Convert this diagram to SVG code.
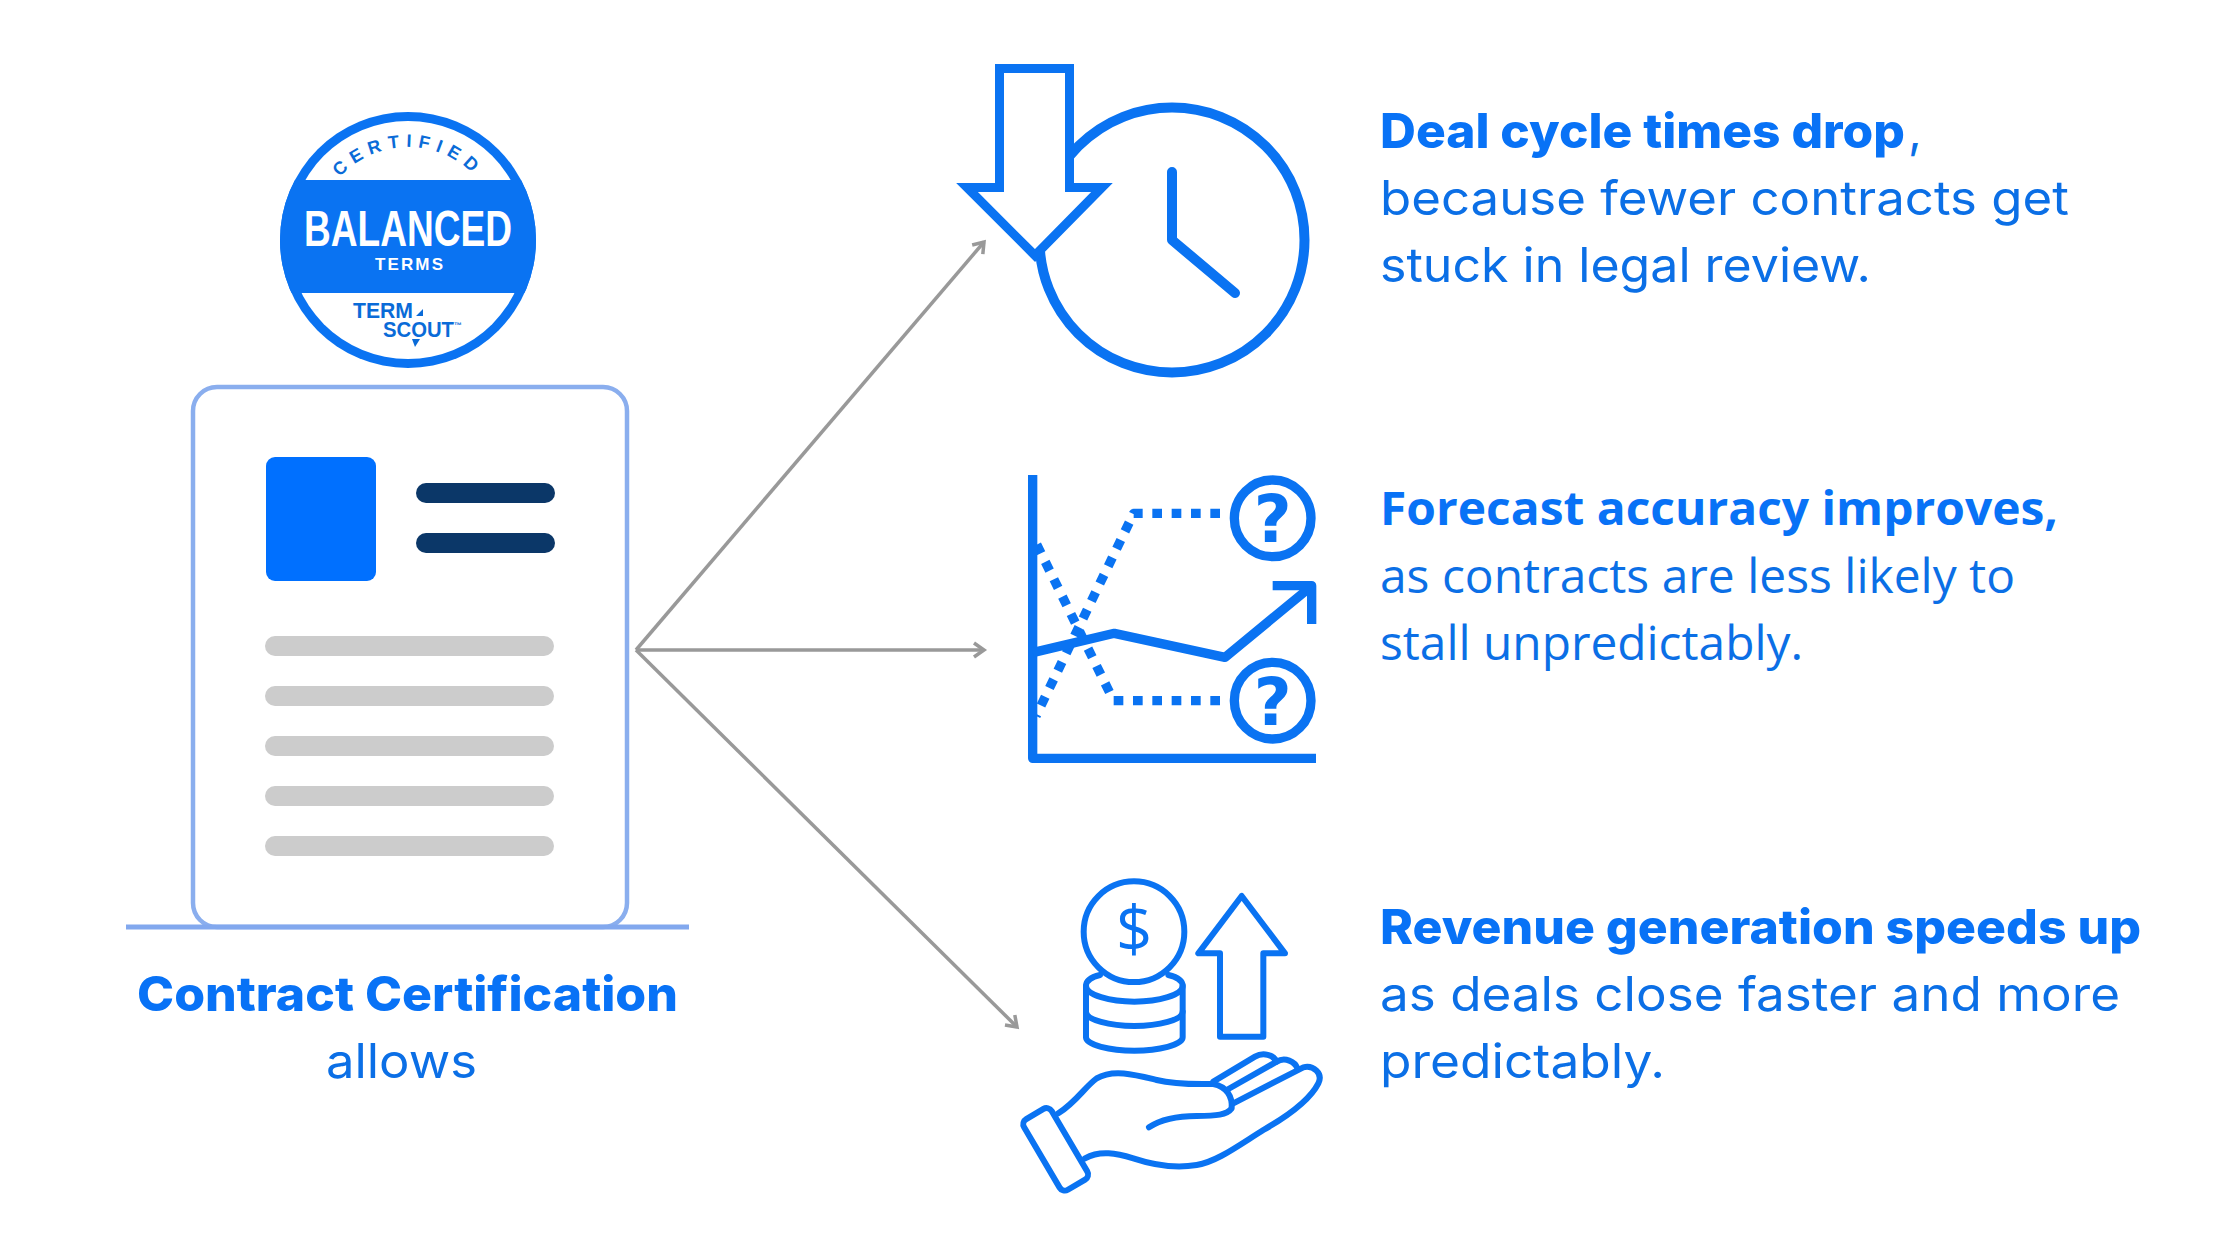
<svg xmlns="http://www.w3.org/2000/svg" xmlns:xlink="http://www.w3.org/1999/xlink" width="2240" height="1260" viewBox="0 0 2240 1260">
<style>
.pop{font-family:"Inter","Liberation Sans",sans-serif;fill:#0B6FE6;font-size:48px;font-weight:400}
.popb{font-family:"Inter","Liberation Sans",sans-serif;fill:#0872F6;font-size:48px;font-weight:800}
.os{font-family:"Open Sans","Liberation Sans",sans-serif;fill:#0B6FE6;font-size:47px;font-weight:400}
.osb{font-family:"Open Sans","Liberation Sans",sans-serif;fill:#0872F6;font-size:47px;font-weight:700}
.ic{fill:none;stroke:#0A73F2;stroke-linejoin:round}
.bar{fill:#CCCCCC}
.dark{fill:#0B3768}
.conn{fill:none;stroke:#999999;stroke-width:3.5}
.bt{font-family:"Liberation Sans",Arial,sans-serif;font-weight:700}
</style>
<defs>
<marker id="head" markerUnits="userSpaceOnUse" markerWidth="20" markerHeight="20" refX="14" refY="9" orient="auto" viewBox="0 0 20 18">
<path d="M4 2 L14 9 L4 16" fill="none" stroke="#999999" stroke-width="3.5"/>
</marker>
<clipPath id="badgeClip"><circle cx="408" cy="240" r="128"/></clipPath>
<path id="certArc" d="M341 176 A92 92 0 0 1 475 176"/>
</defs>
<rect width="2240" height="1260" fill="#FFFFFF"/>

<g id="connectors">
<line class="conn" x1="636" y1="650" x2="984" y2="242" marker-end="url(#head)"/>
<line class="conn" x1="636" y1="650" x2="984" y2="650" marker-end="url(#head)"/>
<line class="conn" x1="636" y1="650" x2="1017" y2="1027" marker-end="url(#head)"/>
</g>

<g id="badge">
<circle cx="408" cy="240" r="128" fill="#0A73F2"/>
<circle cx="408" cy="240" r="119" fill="#FFFFFF"/>
<rect x="270" y="180" width="280" height="113" fill="#0A73F2" clip-path="url(#badgeClip)"/>
<text class="bt" font-size="18" fill="#0A6BD8" letter-spacing="6.5" text-anchor="middle" font-weight="400"><textPath xlink:href="#certArc" href="#certArc" startOffset="50%">CERTIFIED</textPath></text>
<text class="bt" x="304" y="246" font-size="50" fill="#FFFFFF" textLength="208" lengthAdjust="spacingAndGlyphs">BALANCED</text>
<text class="bt" x="375" y="270" font-size="17" fill="#FFFFFF" textLength="68" lengthAdjust="spacing">TERMS</text>
<text class="bt" x="353" y="318" font-size="22" fill="#0A6BD8" textLength="60" lengthAdjust="spacingAndGlyphs">TERM</text>
<text class="bt" x="383" y="337" font-size="22" fill="#0A6BD8" textLength="71" lengthAdjust="spacingAndGlyphs">SCOUT</text>
<text class="bt" x="454" y="328" font-size="8" fill="#0A6BD8">™</text>
<path d="M416 316 L423 309 L423 316 Z M412 339 L420 339 L415 347 Z" fill="#0A6BD8"/>
</g>

<g id="document">
<rect x="193" y="387" width="434" height="540" rx="24" fill="#FFFFFF" stroke="#8AAEEE" stroke-width="4.5"/>
<line x1="126" y1="927" x2="689" y2="927" stroke="#82A8EE" stroke-width="5"/>
<rect x="266" y="457" width="110" height="124" rx="9" fill="#0070FF"/>
<rect class="dark" x="416" y="483" width="139" height="20" rx="10"/>
<rect class="dark" x="416" y="533" width="139" height="20" rx="10"/>
<rect class="bar" x="265" y="636" width="289" height="20" rx="10"/>
<rect class="bar" x="265" y="686" width="289" height="20" rx="10"/>
<rect class="bar" x="265" y="736" width="289" height="20" rx="10"/>
<rect class="bar" x="265" y="786" width="289" height="20" rx="10"/>
<rect class="bar" x="265" y="836" width="289" height="20" rx="10"/>
<text class="popb" x="137" y="1011" textLength="541" lengthAdjust="spacingAndGlyphs">Contract Certification</text>
<text class="pop" x="326" y="1078" textLength="151" lengthAdjust="spacingAndGlyphs">allows</text>
</g>

<g id="clock-icon">
<circle class="ic" cx="1172" cy="240" r="132.5" stroke-width="10"/>
<path class="ic" d="M1172 172 V240 L1235 293" stroke-width="10" stroke-linecap="round"/>
<path d="M999.5 68.5 H1069.5 V187.5 H1102 L1035 255.5 L967 187.5 H999.5 Z" fill="#FFFFFF" stroke="#0A73F2" stroke-width="9"/>
</g>

<g id="forecast-icon" transform="translate(1010 460) scale(.33333)">
<path class="ic" d="M630 160 H371 L78 768" stroke-width="28" stroke-dasharray="29 29"/>
<path class="ic" d="M630 722 H311 L77 247" stroke-width="28" stroke-dasharray="29 29"/>
<path class="ic" d="M68 45 V895 H918" stroke-width="28"/>
<path class="ic" d="M68 578 L313 520 L645 592 L905 378" stroke-width="28"/>
<path class="ic" d="M788 377 H905 V492" stroke-width="28"/>
<circle class="ic" cx="788" cy="175" r="115" stroke-width="28"/>
<circle class="ic" cx="788" cy="722" r="115" stroke-width="28"/>
<text x="788" y="245" font-family="'DejaVu Sans',sans-serif" font-weight="700" font-size="196" fill="#0A73F2" text-anchor="middle">?</text>
<text x="788" y="795" font-family="'DejaVu Sans',sans-serif" font-weight="700" font-size="196" fill="#0A73F2" text-anchor="middle">?</text>
</g>

<g id="revenue-icon" transform="translate(1010 860) scale(.33333)">
<g class="ic" stroke-width="18" stroke-linecap="round">
<path d="M270 345 C240 352 228 362 228 378 V532 C228 555 300 572 373 572 C446 572 518 555 518 532 V378 C518 362 505 352 475 345"/>
<path d="M228 378 C228 405 300 425 373 425 C446 425 518 405 518 378"/>
<path d="M228 455 C228 480 300 498 373 498 C446 498 518 480 518 455"/>
<circle cx="372" cy="215" r="151" fill="#FFFFFF"/>
<path d="M695 108 L565 280 H630 V530 H760 V280 H825 Z"/>
<rect x="-48" y="-123" width="96" height="246" rx="18" transform="translate(137 868) rotate(-30.5)"/>
<path d="M145 760 C200 725 225 680 260 655 C310 625 380 645 440 660 C500 675 560 672 610 672 C650 680 668 710 665 745 C650 765 620 768 560 768 C500 768 450 780 417 802"/>
<path d="M225 895 C270 870 320 880 370 895 C430 915 500 925 560 915 C620 905 680 860 760 810 C830 770 900 720 925 670 C940 640 910 615 880 622 L670 730"/>
<path d="M610 665 L735 590 C760 575 790 585 800 605 L650 690"/>
<path d="M800 605 C825 590 855 605 862 625"/>
</g>
<text x="372" y="275" font-family="'Open Sans',sans-serif" font-size="190" fill="#0A73F2" text-anchor="middle">$</text>
</g>

<g id="text-deal">
<text x="1380" y="148" class="popb" textLength="525" lengthAdjust="spacingAndGlyphs">Deal cycle times drop</text>
<text x="1908" y="148" class="pop">,</text>
<text x="1380" y="215" class="pop" textLength="689" lengthAdjust="spacingAndGlyphs">because fewer contracts get</text>
<text x="1380" y="282" class="pop" textLength="491" lengthAdjust="spacingAndGlyphs">stuck in legal review.</text>
</g>
<g id="text-forecast">
<text x="1380" y="525" class="osb" textLength="678" lengthAdjust="spacingAndGlyphs">Forecast accuracy improves,</text>
<text x="1380" y="593" class="os" textLength="635" lengthAdjust="spacingAndGlyphs">as contracts are less likely to</text>
<text x="1380" y="660" class="os" textLength="423" lengthAdjust="spacingAndGlyphs">stall unpredictably.</text>
</g>
<g id="text-revenue">
<text x="1380" y="944" class="popb" textLength="761" lengthAdjust="spacingAndGlyphs">Revenue generation speeds up</text>
<text x="1380" y="1011" class="pop" textLength="740" lengthAdjust="spacingAndGlyphs">as deals close faster and more</text>
<text x="1380" y="1078" class="pop" textLength="285" lengthAdjust="spacingAndGlyphs">predictably.</text>
</g>
</svg>
